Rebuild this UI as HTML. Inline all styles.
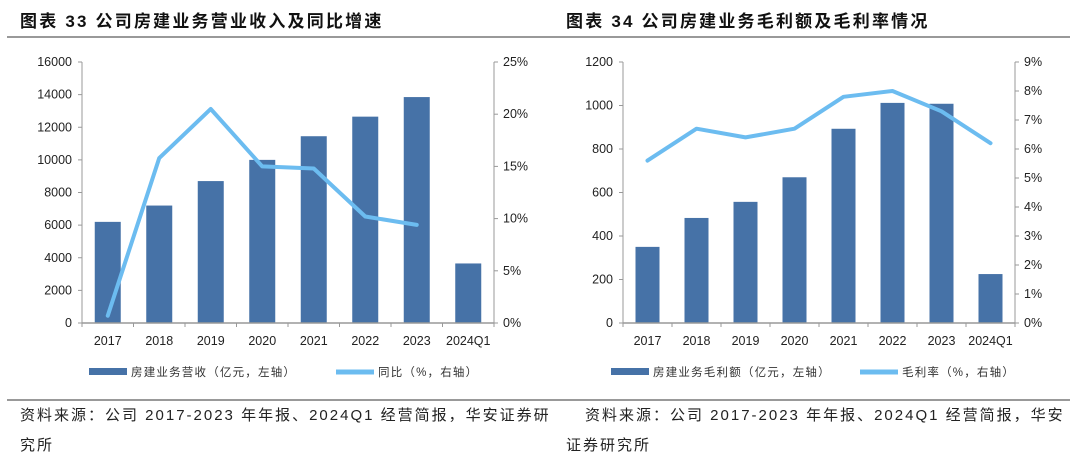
<!DOCTYPE html>
<html><head><meta charset="utf-8">
<style>
body{margin:0;background:#fff;width:1080px;height:464px;overflow:hidden;font-family:"Liberation Sans","Noto Sans CJK SC",sans-serif;}
svg{display:block}
</style></head><body>
<svg id="s" width="1080" height="464" xmlns="http://www.w3.org/2000/svg">
<g font-family="'Liberation Sans','Noto Sans CJK SC',sans-serif">
<text x="20" y="27" font-size="17" font-weight="bold" fill="#111" letter-spacing="2.2">图表 33 公司房建业务营业收入及同比增速</text>
<text x="566" y="27" font-size="17" font-weight="bold" fill="#111" letter-spacing="2.2">图表 34 公司房建业务毛利额及毛利率情况</text>
<line x1="7" y1="37" x2="1070" y2="37" stroke="#333" stroke-width="1"/>
<line x1="7" y1="400" x2="1070" y2="400" stroke="#333" stroke-width="1"/>
<text x="20" y="420" font-size="15" fill="#222" letter-spacing="2">资料来源：公司 2017-2023 年年报、2024Q1 经营简报，华安证券研</text>
<text x="20" y="450" font-size="15" fill="#222" letter-spacing="2">究所</text>
<text x="585" y="420" font-size="15" fill="#222" letter-spacing="2">资料来源：公司 2017-2023 年年报、2024Q1 经营简报，华安</text>
<text x="566" y="450" font-size="15" fill="#222" letter-spacing="2">证券研究所</text>
</g>
</svg>
<script>
const categories = ["2017","2018","2019","2020","2021","2022","2023","2024Q1"];
const revenue = [6200,7200,8700,10000,11450,12650,13850,3650];
const revenueYoY = [0.7,15.8,20.5,15.0,14.8,10.2,9.4];
const grossProfit = [350,483,557,670,893,1012,1008,225];
const grossMargin = [5.6,6.7,6.4,6.7,7.8,8.0,7.3,6.2];
const leftTicks1 = [0,2000,4000,6000,8000,10000,12000,14000,16000];
const rightTicks1 = [0,5,10,15,20,25];
const leftTicks2 = [0,200,400,600,800,1000,1200];
const rightTicks2 = [0,1,2,3,4,5,6,7,8,9];
const legend1 = ["房建业务营收（亿元，左轴）","同比（%，右轴）"];
const legend2 = ["房建业务毛利额（亿元，左轴）","毛利率（%，右轴）"];

const NS="http://www.w3.org/2000/svg";
const svg=document.getElementById('s');
function mk(t,a,p){const e=document.createElementNS(NS,t);for(const k in a)e.setAttribute(k,a[k]);(p||svg).appendChild(e);return e;}
const F="'Liberation Sans','Noto Sans CJK SC',sans-serif";

function chart(o){
  const g=mk('g',{'font-family':F});
  
  
  const top=62,bot=323;
  const lmax=o.lt[o.lt.length-1], rmax=o.rt[o.rt.length-1];
  const yL=v=>bot-(v/lmax)*(bot-top);
  const yR=v=>bot-(v/rmax)*(bot-top);
  const n=o.cats.length, step=(o.xr-o.xl)/n;
  const xC=i=>o.xl+step*(i+0.5);
  mk('line',{x1:o.xl,y1:top,x2:o.xl,y2:bot,stroke:'#999'},g);
  o.lt.forEach(t=>{
    mk('line',{x1:o.xl-4,y1:yL(t),x2:o.xl,y2:yL(t),stroke:'#999'},g);
    const tx=mk('text',{x:o.xl-10,y:yL(t)+4,'font-size':12.5,'text-anchor':'end',fill:'#222'},g);tx.textContent=t;
    
    
  });
  mk('line',{x1:o.xr,y1:top,x2:o.xr,y2:bot,stroke:'#999'},g);
  o.rt.forEach(t=>{
    mk('line',{x1:o.xr,y1:yR(t),x2:o.xr+4,y2:yR(t),stroke:'#999'},g);
    const tx=mk('text',{x:o.xr+9,y:yR(t)+4,'font-size':12.5,fill:'#222'},g);tx.textContent=t+'%';
    
    
  });
  o.bars.forEach((v,i)=>{
    const r=mk('rect',{x:xC(i)-o.bw/2,y:yL(v),width:o.bw,height:bot-yL(v),fill:'#4672a7'},g);
    
    
  });
  mk('line',{x1:o.xl,y1:bot,x2:o.xr,y2:bot,stroke:'#999','stroke-width':1.5},g);
  for(let i=0;i<=n;i++)mk('line',{x1:o.xl+step*i,y1:bot,x2:o.xl+step*i,y2:bot+4,stroke:'#999'},g);
  o.cats.forEach((c,i)=>{
    const tx=mk('text',{x:xC(i),y:bot+22,'font-size':12.5,'text-anchor':'middle',fill:'#222'},g);tx.textContent=c;
    
    
  });
  const pts=o.line.map((v,i)=>xC(i)+','+yR(v)).join(' ');
  const pl=mk('polyline',{points:pts,fill:'none',stroke:'#6cbcf0','stroke-width':4,'stroke-linejoin':'round','stroke-linecap':'round'},g);
  
  
  const ly=372;
  mk('rect',{x:o.lgx,y:ly-4,width:38,height:7,fill:'#4672a7'},g);
  const t1=mk('text',{x:o.lgx+42,y:ly+4,'font-size':11.5,fill:'#333','letter-spacing':1.2},g);t1.textContent=o.leg[0];
  
  
  mk('line',{x1:o.lgx2,y1:ly,x2:o.lgx2+38,y2:ly,stroke:'#6cbcf0','stroke-width':5},g);
  const t2=mk('text',{x:o.lgx2+42,y:ly+4,'font-size':11.5,fill:'#333','letter-spacing':1.2},g);t2.textContent=o.leg[1];
  
  
}
chart({name:'chart-33',xl:82,xr:494,cats:categories,bars:revenue,line:revenueYoY,lt:leftTicks1,rt:rightTicks1,bw:26,leg:legend1,lgx:89,lgx2:336});
chart({name:'chart-34',xl:623,xr:1015,cats:categories,bars:grossProfit,line:grossMargin,lt:leftTicks2,rt:rightTicks2,bw:24,leg:legend2,lgx:611,lgx2:860});
</script>
</body></html>
